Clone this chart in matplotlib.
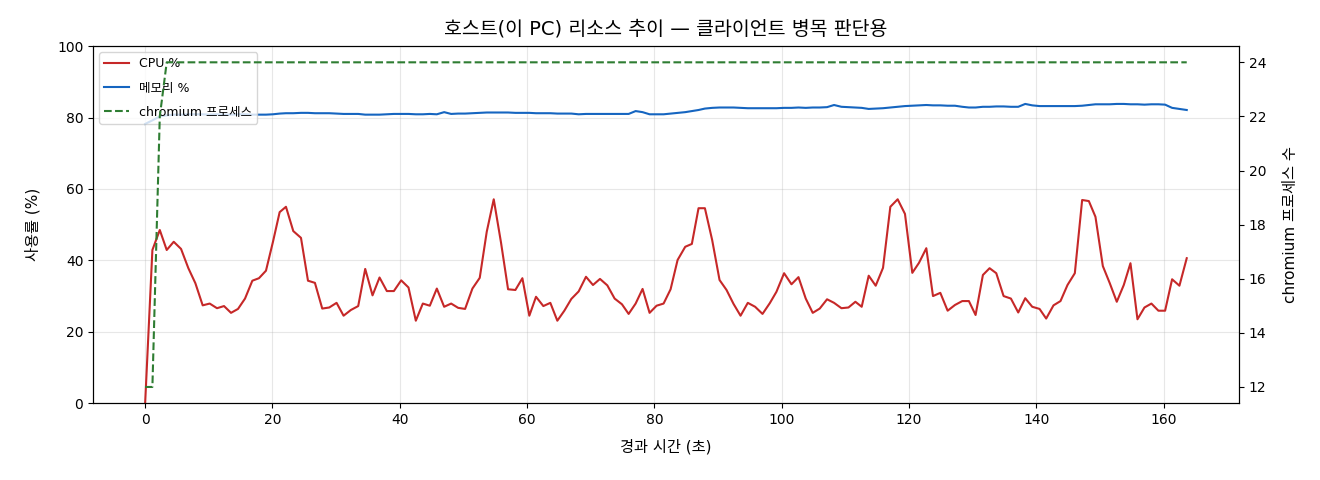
import matplotlib
matplotlib.use("Agg")
import matplotlib.pyplot as plt

plt.rcParams['font.family'] = ['DejaVu Sans', 'Noto Sans CJK KR']
plt.rcParams['axes.unicode_minus'] = False

title = "호스트(이 PC) 리소스 추이 — 클라이언트 병목 판단용"
xlabel = "경과 시간 (초)"
ylabel_left = "사용률 (%)"
ylabel_right = "chromium 프로세스 수"
label_cpu = "CPU %"
label_mem = "메모리 %"
label_chrome = "chromium 프로세스"

elapsed = [
    0.0, 1.14, 2.30, 3.39, 4.49, 5.64, 6.79, 7.89, 9.04, 10.14,
    11.29, 12.39, 13.49, 14.59, 15.69, 16.84, 17.88, 18.98, 20.08, 21.13,
    22.12, 23.27, 24.48, 25.58, 26.67, 27.82, 28.92, 30.07, 31.17, 32.32,
    33.47, 34.57, 35.72, 36.82, 37.97, 39.07, 40.22, 41.37, 42.52, 43.62,
    44.72, 45.82, 46.97, 48.07, 49.17, 50.26, 51.41, 52.56, 53.66, 54.76,
    55.90, 57.01, 58.16, 59.26, 60.35, 61.40, 62.55, 63.65, 64.75, 65.85,
    66.95, 68.10, 69.25, 70.35, 71.45, 72.60, 73.75, 74.90, 75.95, 77.05,
    78.14, 79.24, 80.34, 81.44, 82.54, 83.64, 84.84, 85.88, 86.93, 87.93,
    89.07, 90.23, 91.33, 92.43, 93.53, 94.67, 95.82, 96.98, 98.12, 99.17,
    100.37, 101.53, 102.63, 103.77, 104.87, 105.97, 107.12, 108.22, 109.38, 110.48,
    111.57, 112.56, 113.66, 114.76, 115.91, 117.06, 118.21, 119.36, 120.51, 121.56,
    122.71, 123.76, 124.91, 126.06, 127.21, 128.36, 129.40, 130.45, 131.60, 132.65,
    133.70, 134.85, 136.00, 137.15, 138.25, 139.35, 140.50, 141.54, 142.69, 143.79,
    144.89, 146.04, 147.19, 148.24, 149.28, 150.44, 151.53, 152.63, 153.73, 154.78,
    155.88, 156.98, 158.07, 159.17, 160.22, 161.32, 162.47, 163.62,
]

cpu = [
    0.0, 42.9, 48.5, 42.9, 45.2, 43.2, 37.8, 33.6, 27.4, 27.9,
    26.6, 27.2, 25.3, 26.4, 29.3, 34.3, 35.0, 37.1, 45.2, 53.5,
    55.0, 48.2, 46.3, 34.3, 33.7, 26.5, 26.8, 28.1, 24.5, 26.1,
    27.2, 37.6, 30.2, 35.2, 31.4, 31.4, 34.4, 32.4, 23.1, 27.9,
    27.3, 32.1, 27.0, 27.9, 26.7, 26.4, 32.1, 35.1, 48.0, 57.1,
    45.0, 31.9, 31.7, 35.0, 24.5, 29.8, 27.2, 28.1, 23.1, 25.9,
    29.2, 31.3, 35.4, 33.1, 34.8, 33.0, 29.3, 27.7, 25.0, 27.9,
    32.0, 25.3, 27.3, 27.9, 31.9, 40.1, 43.8, 44.6, 54.6, 54.6,
    45.7, 34.5, 31.7, 27.8, 24.5, 28.1, 27.0, 25.0, 28.0, 31.2,
    36.4, 33.3, 35.3, 29.3, 25.3, 26.5, 29.1, 28.1, 26.6, 26.8,
    28.4, 27.0, 35.7, 32.9, 37.9, 55.0, 57.1, 53.0, 36.5, 39.3,
    43.4, 30.0, 30.9, 25.9, 27.5, 28.6, 28.6, 24.7, 35.9, 37.8,
    36.4, 30.0, 29.3, 25.4, 29.4, 27.0, 26.4, 23.7, 27.4, 28.6,
    33.1, 36.4, 56.9, 56.6, 52.2, 38.4, 33.6, 28.4, 33.1, 39.2,
    23.5, 26.8, 27.9, 25.9, 25.9, 34.7, 32.9, 40.6,
]

memory = [
    78.2, 79.2, 80.3, 80.6, 80.8, 80.8, 80.9, 80.9, 80.9, 80.8,
    80.9, 80.8, 80.8, 80.9, 80.9, 80.8, 80.8, 80.8, 80.9, 81.1,
    81.2, 81.2, 81.3, 81.3, 81.2, 81.2, 81.2, 81.1, 81.0, 81.0,
    81.0, 80.8, 80.8, 80.8, 80.9, 81.0, 81.0, 81.0, 80.9, 80.9,
    81.0, 80.9, 81.5, 81.0, 81.1, 81.1, 81.2, 81.3, 81.4, 81.4,
    81.4, 81.4, 81.3, 81.3, 81.3, 81.2, 81.2, 81.2, 81.1, 81.1,
    81.1, 80.9, 81.0, 81.0, 81.0, 81.0, 81.0, 81.0, 81.0, 81.8,
    81.5, 80.9, 80.9, 80.9, 81.1, 81.3, 81.5, 81.8, 82.1, 82.5,
    82.7, 82.8, 82.8, 82.8, 82.7, 82.6, 82.6, 82.6, 82.6, 82.6,
    82.7, 82.7, 82.8, 82.7, 82.8, 82.8, 82.9, 83.5, 83.0, 82.9,
    82.8, 82.7, 82.4, 82.5, 82.6, 82.8, 83.0, 83.2, 83.3, 83.4,
    83.5, 83.4, 83.4, 83.3, 83.3, 83.0, 82.8, 82.8, 83.0, 83.0,
    83.1, 83.1, 83.0, 83.0, 83.8, 83.4, 83.2, 83.2, 83.2, 83.2,
    83.2, 83.2, 83.3, 83.5, 83.7, 83.7, 83.7, 83.8, 83.8, 83.7,
    83.7, 83.6, 83.7, 83.7, 83.6, 82.7, 82.4, 82.1,
]

chromium = [
    12, 12, 22, 24, 24, 24, 24, 24, 24, 24,
    24, 24, 24, 24, 24, 24, 24, 24, 24, 24,
    24, 24, 24, 24, 24, 24, 24, 24, 24, 24,
    24, 24, 24, 24, 24, 24, 24, 24, 24, 24,
    24, 24, 24, 24, 24, 24, 24, 24, 24, 24,
    24, 24, 24, 24, 24, 24, 24, 24, 24, 24,
    24, 24, 24, 24, 24, 24, 24, 24, 24, 24,
    24, 24, 24, 24, 24, 24, 24, 24, 24, 24,
    24, 24, 24, 24, 24, 24, 24, 24, 24, 24,
    24, 24, 24, 24, 24, 24, 24, 24, 24, 24,
    24, 24, 24, 24, 24, 24, 24, 24, 24, 24,
    24, 24, 24, 24, 24, 24, 24, 24, 24, 24,
    24, 24, 24, 24, 24, 24, 24, 24, 24, 24,
    24, 24, 24, 24, 24, 24, 24, 24, 24, 24,
    24, 24, 24, 24, 24, 24, 24, 24,
]

fig = plt.figure(figsize=(13.2, 4.8), dpi=100)
ax = fig.add_axes([0.0705, 0.160, 0.868, 0.744])
ax2 = ax.twinx()

l1, = ax.plot(elapsed, cpu, color="#c62828", lw=1.5, label=label_cpu)
l2, = ax.plot(elapsed, memory, color="#1565c0", lw=1.5, label=label_mem)
l3, = ax2.plot(elapsed, chromium, color="#2e7d32", lw=1.5, ls="--", label=label_chrome)

ax.set_ylim(0, 100)
ax.set_ylabel(ylabel_left, fontsize=11, labelpad=12)
ax.set_xlabel(xlabel, fontsize=11, labelpad=9)
ax2.set_ylabel(ylabel_right, fontsize=11, labelpad=12)
ax.set_title(title, fontsize=14, pad=8)
ax.grid(True, alpha=0.3)
ax.tick_params(labelsize=10)
ax2.tick_params(labelsize=10)

ax.legend(handles=[l1, l2, l3], loc="upper left", fontsize=9, labelspacing=0.9)

fig.savefig("out.png", dpi=100)
